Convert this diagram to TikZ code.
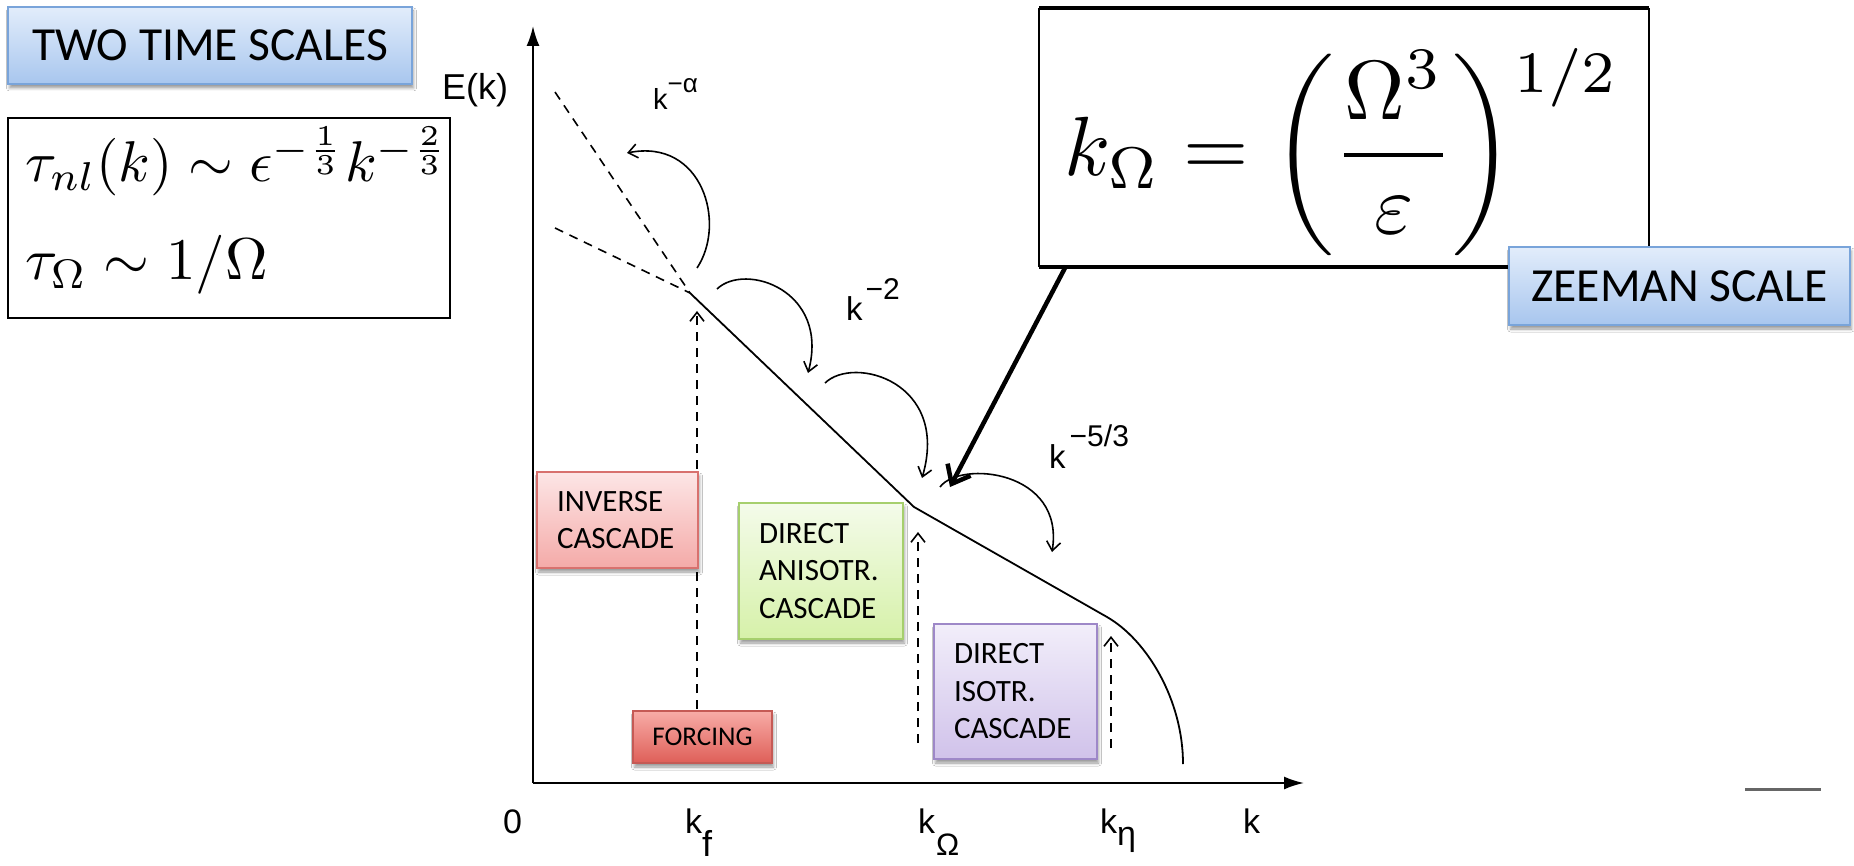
\documentclass[tikz,border=0pt]{standalone}
\usepackage{fontspec}
\usetikzlibrary{arrows.meta,shadows.blur}
\newfontfamily\calib{Carlito}
\newfontfamily\arialf{Liberation Sans}
\definecolor{blueTop}{HTML}{E2EDFB}
\definecolor{blueBot}{HTML}{A8C6EE}
\definecolor{blueBd}{HTML}{79A4DA}
\definecolor{invTop}{HTML}{FDE6E6}
\definecolor{invBot}{HTML}{F4AAA8}
\definecolor{invBd}{HTML}{D8716E}
\definecolor{forTop}{HTML}{F8ACA7}
\definecolor{forBot}{HTML}{DE5F58}
\definecolor{forBd}{HTML}{C55A55}
\definecolor{grnTop}{HTML}{F4FBEA}
\definecolor{grnBot}{HTML}{D6F1A9}
\definecolor{grnBd}{HTML}{A6CF6D}
\definecolor{purTop}{HTML}{F2EEFA}
\definecolor{purBot}{HTML}{D0C2EA}
\definecolor{purBd}{HTML}{9E88C8}
\tikzset{
  boxbase/.style={draw, line width=1.6pt, inner sep=0pt,
    blur shadow={shadow xshift=1.5pt, shadow yshift=-4pt, shadow blur radius=3pt, shadow opacity=40}},
  titlebox/.style={boxbase, draw=blueBd, top color=blueTop, bottom color=blueBot,
    font=\calib\fontsize{47.5}{57}\selectfont},
  cascbox/.style={boxbase, align=left, inner xsep=20pt, font=\calib\fontsize{31}{37.5}\selectfont},
  plotlabel/.style={inner sep=0pt, anchor=base west, font=\arialf\fontsize{34}{34}\selectfont},
  dashln/.style={line width=1.6pt, dash pattern=on 9pt off 7pt},
  uparrow/.style={dashln, -{Straight Barb[length=9pt,width=14pt]}},
  flow/.style={line width=1.6pt, -{Straight Barb[length=9pt,width=14pt]}},
  axis/.style={line width=2pt, -{Latex[length=20pt,width=13pt]}},
  mathnode/.style={inner sep=0pt, anchor=base west},
}
\begin{document}
\begin{tikzpicture}[x=1pt,y=-1pt]
\useasboundingbox[fill=white] (0,0) rectangle (1854,866);

% ---------- left boxes ----------
\node[titlebox, minimum width=404pt, minimum height=77pt] (two) at (210,45.5) {TWO TIME SCALES};
\node[draw, line width=1.6pt, minimum width=442pt, minimum height=200pt, inner sep=0pt] (taubox) at (229,218) {};
\node[mathnode, scale=5.75] (tau1) at (24,182) {$\tau_{nl}(k) \sim \epsilon^{-\frac{1}{3}}k^{-\frac{2}{3}}$};
\node[mathnode, scale=5.9] (tau2) at (24,280) {$\tau_\Omega \sim 1/\Omega$};

% ---------- Zeeman formula box ----------
\node[minimum width=610pt, minimum height=259pt, inner sep=0pt] (zbox) at (1344,137.5) {};
\draw[line width=1.5pt] (zbox.north west) -- (zbox.south west);
\draw[line width=1.5pt] (zbox.north east) -- (zbox.south east);
\draw[line width=3.6pt] (zbox.north west) -- (zbox.north east);
\draw[line width=3.6pt] (zbox.south west) -- (zbox.south east);
\node[mathnode, scale=8.4] (kom) at (1063,176) {$\displaystyle k_\Omega = \left(\frac{\Omega^3}{\varepsilon}\right)^{\raisebox{-2.5pt}{$\scriptstyle 1/2$}}$};

% ---------- axes ----------
\coordinate (O) at (533,783);
\coordinate (ytop) at (533,26);
\coordinate (xend) at (1304,783);
\draw[axis] (O) -- (ytop);
\draw[axis] (O) -- (xend);

\node[plotlabel, font=\arialf\fontsize{36}{36}\selectfont] (Ek) at (442,100) {E(k)};
\node[plotlabel] (zero) at (503,833) {0};
\node[plotlabel] (kf) at (685,833) {k\raisebox{-23pt}{\fontsize{36}{36}\selectfont f}};
\node[plotlabel] (kO) at (918,833) {k\raisebox{-22pt}{\fontsize{31}{31}\selectfont\hspace{1pt}Ω}};
\node[plotlabel] (ke) at (1100,833) {k\raisebox{-12pt}{\fontsize{34}{34}\selectfont η}};
\node[plotlabel] (kax) at (1243,833) {k};

% ---------- dashed spectra and forcing lines ----------
\coordinate (J) at (690,293);
\coordinate (K) at (914,507);
\coordinate (L) at (1107,617);
\coordinate (M) at (1183,764);
\coordinate (steep) at (555,92);
\coordinate (shallow) at (555,228);
\draw[dashln] (steep) -- (J);
\draw[dashln] (shallow) -- (J);

\coordinate (kfb) at (697,709);
\coordinate (kft) at (697,311);
\coordinate (kob) at (918,743);
\coordinate (kot) at (918,532);
\coordinate (keb) at (1111,748);
\coordinate (ket) at (1111,636);
\draw[uparrow] (kfb) -- (kft);
\draw[uparrow] (kob) -- (kot);
\draw[uparrow] (keb) -- (ket);

% ---------- spectrum ----------
\draw[line width=1.8pt, line join=round] (J) -- (K) -- (L) .. controls (1147,640) and (1183,700) .. (M);

% ---------- cascade arcs ----------
\draw[flow] (697,268) .. controls (727,223) and (702,138) .. (627,153);
\draw[flow] (717,289) .. controls (745,262) and (830,290) .. (808,373);
\draw[flow] (825,383) .. controls (854,355) and (950,382) .. (922,478);
\draw[flow] (940,487) .. controls (960,460) and (1065,470) .. (1052,552);

% ---------- exponent labels ----------
\node[plotlabel, font=\arialf\fontsize{29}{29}\selectfont] (ka) at (653,110) {k\raisebox{17pt}{\fontsize{26}{26}\selectfont −α}};
\node[plotlabel, font=\arialf\fontsize{33}{33}\selectfont] (k2) at (846,321) {k\hspace{3pt}\raisebox{21pt}{\fontsize{30}{30}\selectfont −2}};
\node[plotlabel, font=\arialf\fontsize{33}{33}\selectfont] (k53) at (1049,468) {k\hspace{4pt}\raisebox{22pt}{\fontsize{30}{30}\selectfont −5/3}};

% ---------- cascade boxes ----------
\node[cascbox, draw=invBd, top color=invTop, bottom color=invBot, text width=121pt, minimum height=96pt] (inv) at (617.5,520) {INVERSE\\CASCADE};
\node[cascbox, draw=grnBd, top color=grnTop, bottom color=grnBot, text width=124pt, minimum height=136pt] (ani) at (821,571) {DIRECT\\ANISOTR.\\CASCADE};
\node[cascbox, draw=purBd, top color=purTop, bottom color=purBot, text width=123pt, minimum height=135pt] (iso) at (1015.5,691.5) {DIRECT\\ISOTR.\\CASCADE};
\node[boxbase, draw=forBd, top color=forTop, bottom color=forBot, minimum width=139pt, minimum height=52pt, font=\calib\fontsize{27}{32}\selectfont] (forc) at (702.5,737) {FORCING};

% ---------- Zeeman scale ----------
\node[titlebox, minimum width=341pt, minimum height=78pt] (zee) at (1679.5,286) {ZEEMAN SCALE};
\coordinate (zs) at (1066,266);
\coordinate (zt) at (950,487);
\draw[line width=4.5pt, -{Straight Barb[length=16pt,width=26pt]}] (zs) -- (zt);

% ---------- stray mark ----------
\coordinate (s1) at (1745,789);
\coordinate (s2) at (1821,789);
\draw[line width=3pt, black!60] (s1) -- (s2);
\end{tikzpicture}
\end{document}
